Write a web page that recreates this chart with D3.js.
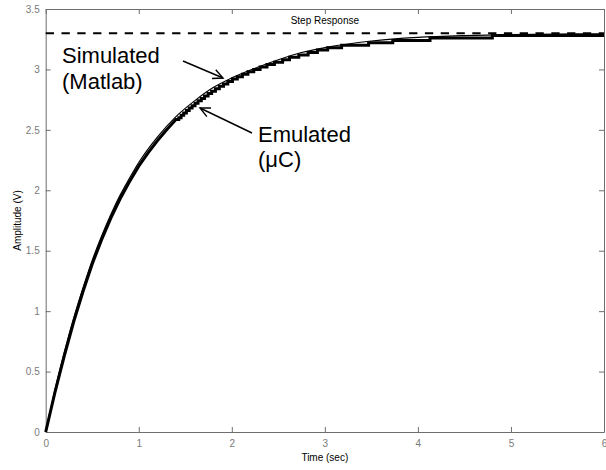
<!DOCTYPE html>
<html>
<head>
<meta charset="utf-8">
<script src="https://cdn.jsdelivr.net/npm/d3@7"></script>
<style>
  body { margin: 0; background: #fff; }
  text { font-family: "Liberation Sans", Arial, sans-serif; }
</style>
</head>
<body>
<div id="chart"></div>
<script>
// simulated (Matlab) step response
const simTime = [0, 0.1, 0.2, 0.3, 0.4, 0.5, 0.6, 0.7, 0.8, 0.9, 1.0, 1.2, 1.4, 1.6, 1.8, 2.0, 2.25, 2.5, 2.75, 3.0, 3.5, 4.0, 4.5, 5.0, 5.5, 6.0];
const simVolt = [0, 0.35, 0.66, 0.94, 1.19, 1.42, 1.62, 1.80, 1.96, 2.10, 2.23, 2.44, 2.61, 2.74, 2.85, 2.93, 3.01, 3.08, 3.14, 3.18, 3.235, 3.265, 3.28, 3.288, 3.292, 3.295];

// emulated (uC) response: smooth part, then the visible quantisation steps
const emuTime = [0, 0.1, 0.2, 0.3, 0.4, 0.5, 0.6, 0.7, 0.8, 0.9, 1.0, 1.1, 1.2, 1.3, 1.4];
const emuVolt = [0, 0.33, 0.63, 0.91, 1.16, 1.39, 1.59, 1.77, 1.93, 2.07, 2.20, 2.31, 2.41, 2.50, 2.585];
const stepTime = [1.43, 1.455, 1.483, 1.512, 1.542, 1.573, 1.605, 1.637, 1.672, 1.707, 1.745, 1.783, 1.824, 1.866, 1.911, 1.957, 2.007, 2.059, 2.114, 2.173, 2.236, 2.304, 2.378, 2.458, 2.546, 2.62, 2.72, 2.82, 2.92, 3.03, 3.18, 3.47, 3.73, 4.13, 4.80];
const stepVolt = [2.60, 2.62, 2.64, 2.66, 2.68, 2.70, 2.72, 2.74, 2.76, 2.78, 2.80, 2.82, 2.84, 2.86, 2.88, 2.90, 2.92, 2.94, 2.96, 2.98, 3.00, 3.02, 3.04, 3.06, 3.08, 3.10, 3.12, 3.14, 3.16, 3.18, 3.20, 3.22, 3.24, 3.26, 3.28];
const endTime = 6;

const setPoint = 3.3;
const xTicks = [0, 1, 2, 3, 4, 5, 6];
const yTicks = [0, 0.5, 1, 1.5, 2, 2.5, 3, 3.5];

const W = 606, H = 470;
const margin = {top: 9, right: 2, bottom: 38, left: 45.7};
const width = W - margin.left - margin.right;
const height = H - margin.top - margin.bottom;

const svg = d3.select("#chart").append("svg")
    .attr("width", W)
    .attr("height", H);

const g = svg.append("g")
    .attr("transform", `translate(${margin.left},${margin.top})`);

const x = d3.scaleLinear().domain([0, 6]).range([0, width]);
const y = d3.scaleLinear().domain([0, 3.5]).range([height, 0]);

const axisColor = "#6e6e6e";

// axes with inward ticks, Matlab style
const xAxis = g.append("g")
    .attr("transform", `translate(0,${height})`)
    .call(d3.axisBottom(x).tickValues(xTicks).tickSizeInner(-5).tickSizeOuter(0).tickPadding(8).tickFormat(d3.format("")));
const xTop = g.append("g")
    .call(d3.axisTop(x).tickValues(xTicks).tickSizeInner(-5).tickSizeOuter(0).tickFormat(""));
const yAxis = g.append("g")
    .call(d3.axisLeft(y).tickValues(yTicks).tickSizeInner(-5).tickSizeOuter(0).tickPadding(6).tickFormat(d3.format("")));
const yRight = g.append("g")
    .attr("transform", `translate(${width},0)`)
    .call(d3.axisRight(y).tickValues(yTicks).tickSizeInner(-5).tickSizeOuter(0).tickFormat(""));

[xAxis, xTop, yAxis, yRight].forEach(a => {
    a.selectAll("path, line").attr("stroke", axisColor);
    a.selectAll("text")
        .attr("fill", "#7a7a7a")
        .style("font-size", "10px")
        .style("font-family", "'Liberation Sans', Arial, sans-serif");
});

// step reference
g.append("line")
    .attr("x1", x(0)).attr("x2", x(6))
    .attr("y1", y(setPoint)).attr("y2", y(setPoint))
    .attr("stroke", "#000")
    .attr("stroke-width", 2)
    .attr("stroke-dasharray", "8.3,7.5");

// emulated curve (thick, stepped)
let emuPts = emuTime.map((t, i) => [t, emuVolt[i]]);
let prev = emuVolt[emuVolt.length - 1];
stepTime.forEach((t, i) => {
    emuPts.push([t, prev]);
    emuPts.push([t, stepVolt[i]]);
    prev = stepVolt[i];
});
emuPts.push([endTime, prev]);

const line = d3.line().x(d => x(d[0])).y(d => y(d[1]));

g.append("path")
    .datum(emuPts)
    .attr("fill", "none")
    .attr("stroke", "#000")
    .attr("stroke-width", 3)
    .attr("d", line);

// simulated curve (thin)
g.append("path")
    .datum(simTime.map((t, i) => [t, simVolt[i]]))
    .attr("fill", "none")
    .attr("stroke", "#000")
    .attr("stroke-width", 1.2)
    .attr("d", line.curve(d3.curveMonotoneX));

// title inside the box
g.append("text")
    .attr("x", x(3))
    .attr("y", 15)
    .attr("text-anchor", "middle")
    .style("font-size", "10px")
    .text("Step Response");

// axis labels
svg.append("text")
    .attr("x", margin.left + width / 2)
    .attr("y", 461)
    .attr("text-anchor", "middle")
    .style("font-size", "10px")
    .text("Time (sec)");

svg.append("text")
    .attr("transform", `translate(21,${margin.top + height / 2}) rotate(-90)`)
    .attr("text-anchor", "middle")
    .style("font-size", "10px")
    .text("Amplitude (V)");

// annotations
const annFont = "22px";
svg.append("text").attr("x", 62).attr("y", 63).style("font-size", annFont).text("Simulated");
svg.append("text").attr("x", 62).attr("y", 89).style("font-size", annFont).text("(Matlab)");
svg.append("text").attr("x", 258).attr("y", 142).style("font-size", annFont).text("Emulated");
svg.append("text").attr("x", 258).attr("y", 167).style("font-size", annFont).text("(μC)");

function arrow(x1, y1, x2, y2) {
    let ang = Math.atan2(y2 - y1, x2 - x1);
    let len = 11, spread = 0.45;
    svg.append("line")
        .attr("x1", x1).attr("y1", y1).attr("x2", x2).attr("y2", y2)
        .attr("stroke", "#000").attr("stroke-width", 1.4);
    svg.append("path")
        .attr("d", `M${x2 - len * Math.cos(ang - spread)},${y2 - len * Math.sin(ang - spread)}L${x2},${y2}L${x2 - len * Math.cos(ang + spread)},${y2 - len * Math.sin(ang + spread)}`)
        .attr("fill", "none")
        .attr("stroke", "#000")
        .attr("stroke-width", 1.4);
}
arrow(183, 61, 223, 78);
arrow(252, 133, 200, 108);
</script>
</body>
</html>
